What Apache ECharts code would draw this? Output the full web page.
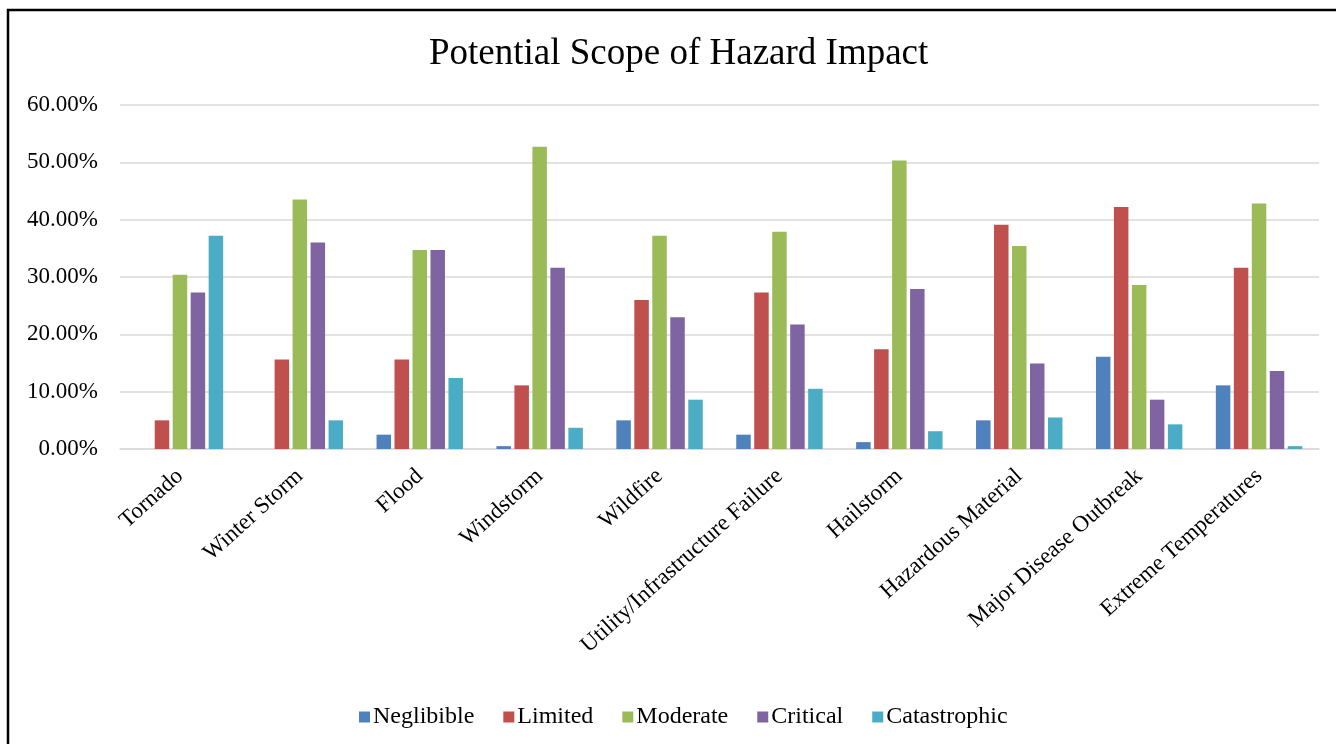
<!DOCTYPE html>
<html>
<head>
<meta charset="utf-8">
<script src="https://cdn.jsdelivr.net/npm/echarts@6/dist/echarts.min.js"></script>
<style>
html,body{margin:0;padding:0;background:#fff;}
#chart{width:1336px;height:744px;}
</style>
</head>
<body>
<div id="chart"></div>
<script>
const categories = ['Tornado','Winter Storm','Flood','Windstorm','Wildfire','Utility/Infrastructure Failure','Hailstorm','Hazardous Material','Major Disease Outbreak','Extreme Temperatures'];
const seriesNames = ['Neglibible','Limited','Moderate','Critical','Catastrophic'];
const neglibible   = [0.0, 0.0, 2.5, 0.5, 5.0, 2.5, 1.2, 5.0, 16.1, 11.1];
const limited      = [5.0, 15.6, 15.6, 11.1, 26.0, 27.3, 17.4, 39.1, 42.2, 31.6];
const moderate     = [30.4, 43.5, 34.7, 52.7, 37.2, 37.9, 50.3, 35.4, 28.6, 42.8];
const critical     = [27.3, 36.0, 34.7, 31.6, 23.0, 21.7, 27.9, 14.9, 8.6, 13.6];
const catastrophic = [37.2, 5.0, 12.4, 3.7, 8.6, 10.5, 3.1, 5.5, 4.3, 0.5];
const colors = ['#4F81BD','#C0504D','#9BBB59','#8064A2','#4BACC6'];
const allData = [neglibible, limited, moderate, critical, catastrophic];

const FONT = '"Liberation Serif","Times New Roman",serif';
const chart = echarts.init(document.getElementById('chart'));
chart.setOption({
  animation: false,
  color: colors,
  title: {
    text: 'Potential Scope of Hazard Impact',
    left: 424, top: 31,
    textStyle: {fontFamily: FONT, fontSize: 37, fontWeight: 'normal', color: '#000'}
  },
  graphic: [{
    type: 'rect', shape: {x: 8, y: 10, width: 1400, height: 800},
    style: {fill: 'none', stroke: '#000', lineWidth: 2.5}, silent: true
  }],
  legend: {
    top: 700, left: 354,
    itemWidth: 11, itemHeight: 11, itemGap: 29,
    icon: 'rect',
    textStyle: {fontFamily: FONT, fontSize: 24, color: '#000', padding: [0,0,0,-2]},
    data: seriesNames
  },
  grid: {left: 120, right: 17, top: 105, bottom: 295, containLabel: false},
  xAxis: {
    type: 'category', data: categories,
    axisLine: {show: true, lineStyle: {color: '#D9D9D9', width: 1.5}},
    axisTick: {show: false},
    axisLabel: {rotate: 42, margin: 24, interval: 0, fontFamily: FONT, fontSize: 23, color: '#000'}
  },
  yAxis: {
    type: 'value', min: 0, max: 60, interval: 10,
    axisLine: {show: false}, axisTick: {show: false},
    splitLine: {lineStyle: {color: '#D9D9D9', width: 1.5}},
    axisLabel: {margin: 22, fontFamily: FONT, fontSize: 23, color: '#000',
      formatter: v => v.toFixed(2) + '%'}
  },
  series: seriesNames.map((n, i) => ({
    name: n, type: 'bar', data: allData[i],
    barWidth: 14.5, barGap: '24%',
    itemStyle: {color: colors[i]}
  }))
});
</script>
</body>
</html>
